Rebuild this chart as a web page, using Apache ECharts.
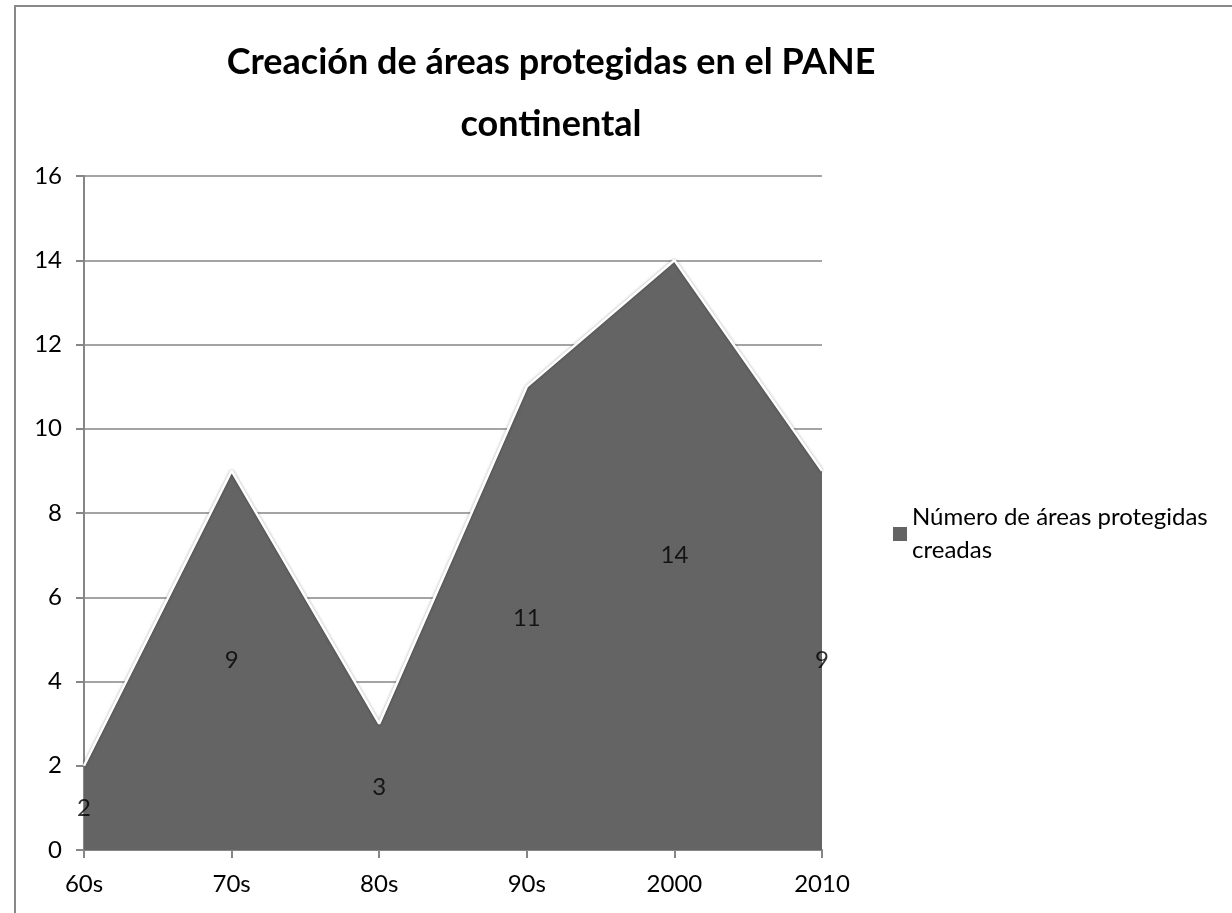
<!DOCTYPE html>
<html>
<head>
<meta charset="utf-8">
<script src="https://cdn.jsdelivr.net/npm/echarts@6/dist/echarts.min.js"></script>
<style>
  html, body { margin: 0; padding: 0; background: #fff; }
  #chart { width: 1232px; height: 913px; }
</style>
</head>
<body>
<div id="chart"></div>
<script>
// decades on the x axis
const categories = ['60s', '70s', '80s', '90s', '2000', '2010'];
// número de áreas protegidas creadas
const values = [2, 9, 3, 11, 14, 9];
const seriesName = 'Número de áreas protegidas creadas';

// labels sit in the middle of the area, at half the value
const labelPos = values.map(function (v) { return v / 2; });

const font = 'Lato, "Open Sans", sans-serif';
const chart = echarts.init(document.getElementById('chart'));

chart.setOption({
  animation: false,
  title: {
    text: 'Creación de áreas protegidas en el PANE\ncontinental',
    left: 546,
    top: 26,
    textAlign: 'center',
    textStyle: { fontFamily: font, fontWeight: 'bold', fontSize: 36, lineHeight: 62, color: '#000' }
  },
  legend: {
    data: [seriesName],
    orient: 'vertical',
    left: 888,
    top: 496,
    icon: 'rect',
    itemWidth: 14,
    itemHeight: 14,
    itemGap: 6,
    formatter: function () { return 'Número de áreas protegidas\ncreadas'; },
    textStyle: { fontFamily: font, fontSize: 24, lineHeight: 33, color: '#000' }
  },
  grid: { left: 84, right: 410, top: 176, bottom: 63 },
  xAxis: {
    type: 'category',
    data: categories,
    boundaryGap: false,
    axisLine: { lineStyle: { color: '#868686', width: 2 } },
    axisTick: { show: true, length: 8, lineStyle: { color: '#868686', width: 2 } },
    axisLabel: { fontFamily: font, fontSize: 24, color: '#000', margin: 22 },
    splitLine: { show: false }
  },
  yAxis: {
    type: 'value',
    min: 0,
    max: 16,
    interval: 2,
    axisLine: { show: true, lineStyle: { color: '#868686', width: 2 } },
    axisTick: { show: true, length: 8, lineStyle: { color: '#868686', width: 2 } },
    axisLabel: { fontFamily: font, fontSize: 24, color: '#000', margin: 22 },
    splitLine: { lineStyle: { color: '#868686', width: 1.5 } }
  },
  graphic: [{
    type: 'rect',
    shape: { x: 15, y: 6, width: 1300, height: 1000 },
    style: { fill: 'none', stroke: '#898989', lineWidth: 2 },
    silent: true
  }],
  series: [{
    name: seriesName,
    type: 'line',
    data: values,
    symbol: 'none',
    color: '#646464',
    lineStyle: { color: '#ffffff', width: 2.5, shadowColor: 'rgba(0,0,0,0.35)', shadowBlur: 3 },
    areaStyle: { color: '#646464', opacity: 1 },
    z: 3
  }, {
    name: 'labels',
    type: 'scatter',
    data: labelPos,
    symbolSize: 0,
    z: 5,
    label: {
      show: true,
      position: 'inside',
      formatter: function (p) { return String(values[p.dataIndex]); },
      fontFamily: font,
      fontSize: 24,
      color: '#000'
    }
  }]
});
</script>
</body>
</html>
